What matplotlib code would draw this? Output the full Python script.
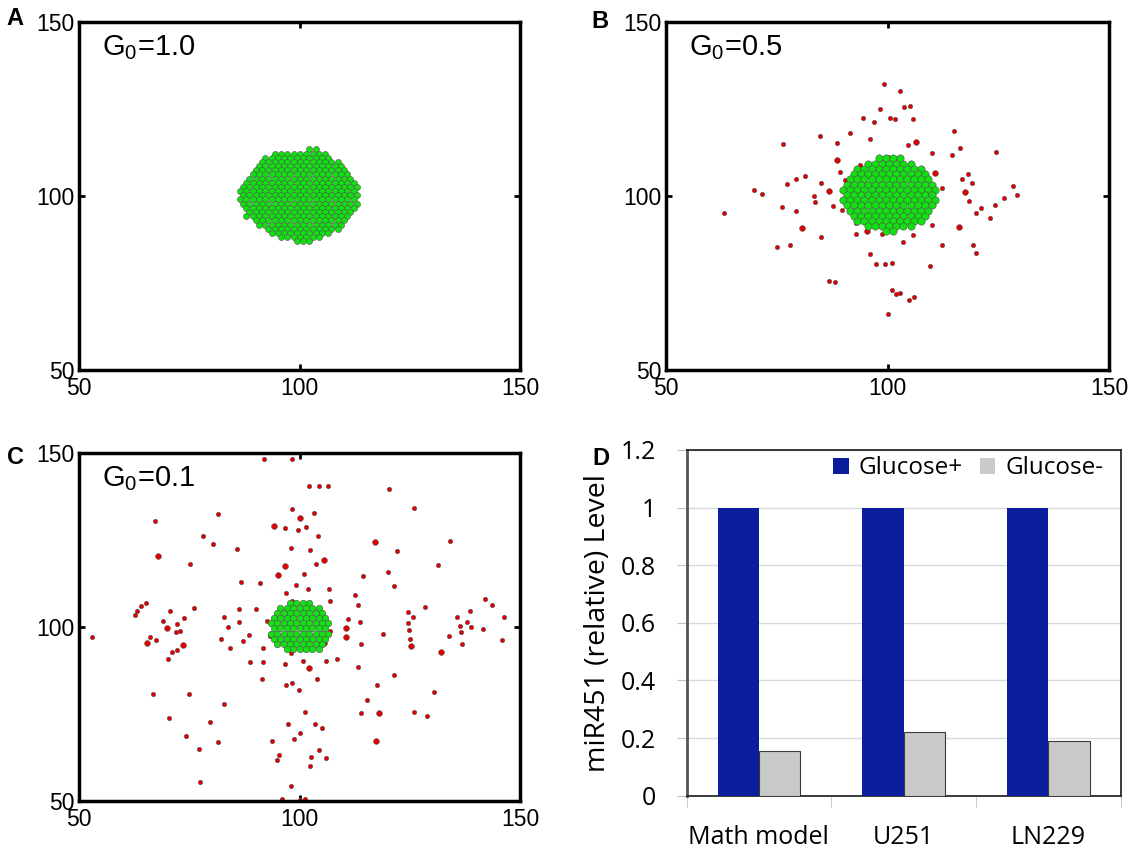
import numpy as np
import matplotlib
matplotlib.use('Agg')
import matplotlib.pyplot as plt

plt.rcParams['font.family'] = 'Liberation Sans'
plt.rcParams['mathtext.default'] = 'regular'

g0_labels = ['1.0', '0.5', '0.1']

# green core cells ('#' = cell, '.' = empty)
# odd rows sit half a cell to the right (hex packing)
core_a = [
    "...........##.......",
    ".....#########......",
    "....###########.....",
    "...#############....",
    "...##############...",
    "..###############...",
    "..################..",
    ".#################..",
    ".##################.",
    "###################.",
    "###################.",
    "###################.",
    "###################.",
    "###################.",
    ".##################.",
    ".#################..",
    ".#################..",
    "..###############...",
    "...##############...",
    "....############....",
    ".....##########.....",
    "......#######.......",
    ".........###........",
]
core_b = [
    ".....####.....",
    "...#######....",
    "..##########..",
    ".###########..",
    ".############.",
    "#############.",
    "##############",
    "#############.",
    "##############",
    "#############.",
    ".############.",
    ".###########..",
    "..##########..",
    "...#######....",
    "......##......",
]
core_c = [
    "...####...",
    ".#######..",
    ".########.",
    "#########.",
    "##########",
    "#########.",
    "##########",
    "#########.",
    ".########.",
    "..######..",
]

# red (migrating) cells, panel B
b_red_x = [99.3, 102.8, 98.4, 103.7, 105.0, 94.4, 96.9, 100.5, 101.7, 105.7, 114.9, 84.7, 91.5, 96.0,
           76.3, 88.5, 104.6, 116.3, 110.1, 114.5, 124.4, 100.1, 102.6, 89.2, 93.8, 107.6, 118.1, 116.8,
           119.1, 112.2, 128.4, 129.3, 126.4, 118.5, 124.3, 121.2, 120.0, 123.2, 110.3, 110.0, 112.4,
           119.3, 119.9, 109.6, 101.0, 99.4, 97.3, 96.0, 103.5, 105.7, 98.8, 92.8, 92.8, 100.9, 101.9,
           102.9, 105.9, 104.8, 100.0, 86.8, 88.2, 85.0, 77.9, 75.0, 76.1, 79.3, 63.1, 69.8, 71.7, 77.3,
           79.3, 81.3, 85.0, 83.5, 83.6, 87.6, 89.8, 90.3]
b_red_y = [132.1, 130.2, 124.9, 125.6, 125.8, 122.3, 121.3, 122.3, 122.2, 122.0, 118.6, 117.2, 118.2, 116.5,
           114.8, 115.3, 114.7, 113.8, 112.3, 111.8, 112.5, 111.2, 110.9, 106.9, 108.8, 107.6, 106.4, 104.9,
           103.8, 102.3, 102.8, 100.4, 99.3, 98.7, 97.4, 96.6, 95.2, 93.7, 97.3, 91.6, 85.8,
           86.0, 83.7, 79.9, 80.7, 80.4, 80.4, 83.4, 86.7, 88.8, 89.2, 89.1, 92.1, 73.1, 71.7,
           72.2, 71.0, 70.0, 66.2, 75.6, 75.3, 88.2, 85.8, 85.3, 96.7, 95.6, 95.1, 101.7, 100.7, 103.4,
           105.0, 105.8, 103.7, 100.0, 98.2, 97.2, 96.1, 104.6]
b_big_x = [106.4, 88.5, 110.7, 117.5, 116.1, 95.3, 80.6, 86.9]
b_big_y = [115.5, 110.2, 106.5, 101.1, 91.1, 89.9, 90.8, 101.5]

# red cells, panel C
c_red_x = [92.0, 98.3, 102.1, 104.5, 106.4, 120.2, 126.0, 98.3, 103.3, 81.4, 67.3, 96.6, 99.7, 101.4,
           104.2, 78.1, 80.4, 85.8, 98.1, 102.3, 122.2, 134.1, 75.1, 103.7, 131.3, 100.9, 114.3,
           120.0, 86.7, 91.0, 99.3, 102.0, 106.6, 121.5, 96.9, 107.0, 112.6, 113.3, 142.1, 143.7, 98.3,
           65.2, 64.0, 63.1, 62.6, 76.0, 70.6, 69.1, 73.8, 72.3, 72.0, 73.0, 66.2, 67.4, 52.9, 71.1,
           72.1, 70.2, 82.8, 86.3, 90.1, 92.7, 83.7, 86.3, 82.1, 88.5, 87.1, 84.3, 91.7, 93.4,
           110.9, 113.7, 113.9, 119.0, 124.5, 125.7, 124.5, 124.8, 125.1, 128.5, 135.6, 136.4, 138.6,
           137.9, 138.8, 141.7, 133.8, 136.5, 136.9, 146.4, 145.9, 107.0, 113.2, 121.5, 106.0, 108.5,
           100.8, 98.0, 96.6, 91.8, 88.8, 91.4, 104.0, 97.0, 98.4, 99.8,
           66.7, 74.9, 82.9, 70.4, 79.8, 74.3, 81.6, 77.2, 117.5, 130.5, 115.4, 113.9, 126.0, 128.9,
           101.3, 97.3, 103.4, 105.2, 100.1, 98.7, 93.8, 95.3, 95.0, 104.3, 102.6, 106.1, 102.3, 77.5,
           98.0, 96.1, 100.2, 101.3]
c_red_y = [148.3, 148.1, 140.4, 140.6, 140.4, 139.5, 134.0, 133.9, 132.6, 132.3, 130.3, 128.3, 127.8, 128.6,
           126.2, 126.0, 123.9, 122.5, 122.6, 122.2, 121.9, 124.6, 118.1, 118.1, 117.8, 115.2, 114.7,
           115.7, 112.9, 112.6, 112.1, 110.9, 111.0, 111.8, 109.6, 107.4, 109.1, 106.4, 108.1, 106.2, 107.5,
           107.0, 105.9, 104.7, 103.4, 105.5, 104.5, 101.7, 102.6, 100.7, 98.4, 98.7, 97.0, 96.3, 97.1, 92.8,
           93.4, 90.9, 102.8, 105.1, 105.2, 101.7, 100.0, 101.3, 96.6, 97.7, 95.9, 94.0, 94.0, 97.3,
           102.3, 101.3, 95.1, 98.1, 104.3, 102.8, 101.1, 99.1, 96.6, 105.6, 102.8, 100.4, 104.5,
           101.5, 99.9, 99.5, 97.4, 98.4, 95.1, 102.8, 96.2, 98.8, 88.5, 86.1, 90.3, 90.7,
           90.1, 92.6, 89.3, 89.9, 89.8, 85.1, 85.1, 83.2, 83.9, 81.9,
           80.6, 80.7, 77.9, 73.8, 72.6, 68.6, 66.9, 65.0, 83.4, 81.3, 79.1, 75.4, 75.5, 74.3,
           75.5, 72.1, 72.1, 71.1, 69.5, 67.8, 67.2, 63.3, 61.7, 64.6, 62.5, 62.4, 60.2, 55.6,
           54.4, 50.6, 50.3, 50.5]
c_big_x = [67.9, 105.6, 69.9, 65.5, 73.5, 110.5, 110.5, 125.2, 132.1, 105.6, 102.1, 118.0, 117.4,
           94.3, 96.6, 95.2, 100.1, 117.1]
c_big_y = [120.3, 119.3, 99.6, 95.3, 94.8, 99.7, 97.1, 94.6, 92.8, 95.5, 88.2, 75.4, 67.3,
           128.9, 117.4, 115.0, 131.4, 124.3]

# panel D
categories = ['Math model', 'U251', 'LN229']
glucose_plus = [1.0, 1.0, 1.0]
glucose_minus = [0.155, 0.22, 0.19]


def core_xy(rows, x0, dx, y0, dy):
    xs, ys = [], []
    for i, row in enumerate(rows):
        for j, ch in enumerate(row):
            if ch == '#':
                xs.append(x0 + j * dx + (dx / 2 if i % 2 else 0))
                ys.append(y0 - i * dy)
    return xs, ys


green = '#12E012'
red = '#E40000'
edge = '#505050'

fig = plt.figure(figsize=(11.34, 8.49), dpi=100)

panels = [
    ([0.0697, 0.5642, 0.3889, 0.4099], core_xy(core_a, 86.5, 1.43, 113.4, 1.2), 19, None, None),
    ([0.5873, 0.5642, 0.3907, 0.4099], core_xy(core_b, 90.0, 1.6, 110.8, 1.5), 28,
     (b_red_x, b_red_y), (b_big_x, b_big_y)),
    ([0.0697, 0.0565, 0.3889, 0.4102], core_xy(core_c, 93.5, 1.45, 106.8, 1.45), 22,
     (c_red_x, c_red_y), (c_big_x, c_big_y)),
]

for k, (rect, core, csize, reds, bigs) in enumerate(panels):
    ax = fig.add_axes(rect)
    if reds is not None:
        ax.scatter(reds[0], reds[1], s=10, color=red, edgecolors=edge, linewidths=0.4, zorder=2)
        ax.scatter(bigs[0], bigs[1], s=17, color=red, edgecolors=edge, linewidths=0.4, zorder=2)
    ax.scatter(core[0], core[1], s=csize, color=green, edgecolors=edge, linewidths=0.4, zorder=3)
    ax.set_xlim(50, 150)
    ax.set_ylim(50, 150)
    ax.set_xticks([50, 100, 150])
    ax.set_yticks([50, 100, 150])
    ax.tick_params(direction='in', length=4, width=2, top=True, right=True, labelsize=16.5)
    ax.tick_params(axis='y', pad=3)
    ax.tick_params(axis='x', pad=5)
    for sp in ax.spines.values():
        sp.set_linewidth(2.5)
    ax.text(0.052, 0.905, 'G$_0$=' + g0_labels[k], transform=ax.transAxes, fontsize=21)

# bar chart
ax = fig.add_axes([0.6054, 0.0628, 0.3829, 0.4072])
x = np.arange(len(categories))
w = 0.285
ax.bar(x - w / 2, glucose_plus, w, color='#0A1E9E', label='Glucose+', zorder=3)
ax.bar(x + w / 2, glucose_minus, w, color='#C9C9C9', edgecolor='#3A3A3A', linewidth=0.8,
       label='Glucose-', zorder=3)
ax.set_xlim(-0.5, 2.5)
ax.set_ylim(0, 1.2)
ax.set_yticks([0, 0.2, 0.4, 0.6, 0.8, 1.0, 1.2])
ax.set_yticklabels(['0', '0.2', '0.4', '0.6', '0.8', '1', '1.2'], family='Open Sans', fontsize=18)
ax.yaxis.grid(True, color='#D9D9D9', linewidth=1, zorder=0)
ax.tick_params(axis='y', length=7, color='#BFBFBF', pad=15)
ax.set_xticks(x)
ax.set_xticklabels(categories, family='Open Sans', fontsize=18)
ax.set_xticks([-0.5, 0.5, 1.5, 2.5], minor=True)
ax.tick_params(axis='x', which='major', length=0, pad=21)
ax.tick_params(axis='x', which='minor', length=8, color='#BFBFBF')
for sp in ax.spines.values():
    sp.set_color('#2A2A2A')
    sp.set_linewidth(1.3)
ax.spines['left'].set_color('#555555')
ax.spines['left'].set_linewidth(2)
ax.set_ylabel('miR451 (relative) Level', family='Open Sans', fontsize=20.5, labelpad=6)
leg = ax.legend(loc='upper right', bbox_to_anchor=(1.01, 1.045), frameon=False, ncol=2,
                prop={'family': 'Open Sans', 'size': 17.5}, handlelength=0.65, handleheight=0.65,
                handletextpad=0.4, columnspacing=0.7)
leg.legend_handles[1].set_edgecolor('none')

for lab, (px, py) in zip('ABCD', [(14.5, 18.5), (600, 22), (15, 457), (601, 459)]):
    fig.text(px / 1134, 1 - py / 849, lab, fontsize=17, fontweight='bold', ha='center', va='center')

plt.savefig('out.png', dpi=100)
plt.close()
